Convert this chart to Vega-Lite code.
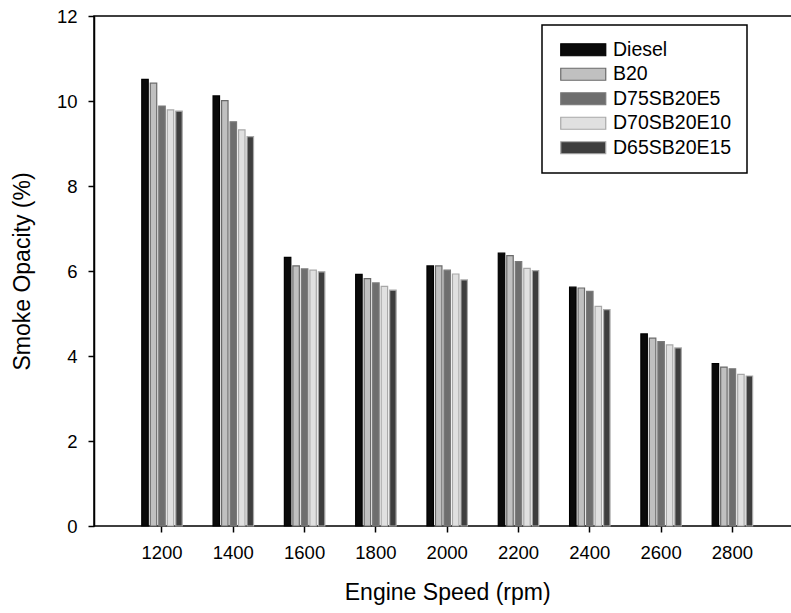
{
  "$schema": "https://vega.github.io/schema/vega-lite/v6.json",
  "autosize": "none",
  "width": 698,
  "height": 510,
  "padding": {"left": 94, "top": 16, "right": 0, "bottom": 87},
  "background": "white",
  "config": {
    "font": "Liberation Sans",
    "view": {"stroke": "black", "strokeWidth": 1.5},
    "axis": {"grid": false, "labelFont": "Liberation Sans", "titleFont": "Liberation Sans", "labelColor": "black", "titleColor": "black", "tickColor": "black", "domainColor": "black", "tickWidth": 1.5, "domainWidth": 1.5, "labelFontSize": 18.5, "titleFontSize": 23, "titleFontWeight": "normal", "tickSize": 6}
  },
  "data": {"values": [
    {"speed": 1200, "fuel": "Diesel", "opacity": 10.51},
    {"speed": 1200, "fuel": "B20", "opacity": 10.42},
    {"speed": 1200, "fuel": "D75SB20E5", "opacity": 9.88},
    {"speed": 1200, "fuel": "D70SB20E10", "opacity": 9.79},
    {"speed": 1200, "fuel": "D65SB20E15", "opacity": 9.76},
    {"speed": 1400, "fuel": "Diesel", "opacity": 10.12},
    {"speed": 1400, "fuel": "B20", "opacity": 10.01},
    {"speed": 1400, "fuel": "D75SB20E5", "opacity": 9.51},
    {"speed": 1400, "fuel": "D70SB20E10", "opacity": 9.32},
    {"speed": 1400, "fuel": "D65SB20E15", "opacity": 9.16},
    {"speed": 1600, "fuel": "Diesel", "opacity": 6.32},
    {"speed": 1600, "fuel": "B20", "opacity": 6.12},
    {"speed": 1600, "fuel": "D75SB20E5", "opacity": 6.05},
    {"speed": 1600, "fuel": "D70SB20E10", "opacity": 6.02},
    {"speed": 1600, "fuel": "D65SB20E15", "opacity": 5.98},
    {"speed": 1800, "fuel": "Diesel", "opacity": 5.92},
    {"speed": 1800, "fuel": "B20", "opacity": 5.82},
    {"speed": 1800, "fuel": "D75SB20E5", "opacity": 5.72},
    {"speed": 1800, "fuel": "D70SB20E10", "opacity": 5.64},
    {"speed": 1800, "fuel": "D65SB20E15", "opacity": 5.55},
    {"speed": 2000, "fuel": "Diesel", "opacity": 6.12},
    {"speed": 2000, "fuel": "B20", "opacity": 6.12},
    {"speed": 2000, "fuel": "D75SB20E5", "opacity": 6.02},
    {"speed": 2000, "fuel": "D70SB20E10", "opacity": 5.93},
    {"speed": 2000, "fuel": "D65SB20E15", "opacity": 5.79},
    {"speed": 2200, "fuel": "Diesel", "opacity": 6.42},
    {"speed": 2200, "fuel": "B20", "opacity": 6.36},
    {"speed": 2200, "fuel": "D75SB20E5", "opacity": 6.22},
    {"speed": 2200, "fuel": "D70SB20E10", "opacity": 6.06},
    {"speed": 2200, "fuel": "D65SB20E15", "opacity": 6.01},
    {"speed": 2400, "fuel": "Diesel", "opacity": 5.62},
    {"speed": 2400, "fuel": "B20", "opacity": 5.6},
    {"speed": 2400, "fuel": "D75SB20E5", "opacity": 5.52},
    {"speed": 2400, "fuel": "D70SB20E10", "opacity": 5.17},
    {"speed": 2400, "fuel": "D65SB20E15", "opacity": 5.09},
    {"speed": 2600, "fuel": "Diesel", "opacity": 4.52},
    {"speed": 2600, "fuel": "B20", "opacity": 4.42},
    {"speed": 2600, "fuel": "D75SB20E5", "opacity": 4.34},
    {"speed": 2600, "fuel": "D70SB20E10", "opacity": 4.26},
    {"speed": 2600, "fuel": "D65SB20E15", "opacity": 4.19},
    {"speed": 2800, "fuel": "Diesel", "opacity": 3.82},
    {"speed": 2800, "fuel": "B20", "opacity": 3.74},
    {"speed": 2800, "fuel": "D75SB20E5", "opacity": 3.7},
    {"speed": 2800, "fuel": "D70SB20E10", "opacity": 3.57},
    {"speed": 2800, "fuel": "D65SB20E15", "opacity": 3.53}
  ]},
  "mark": {"type": "bar", "strokeWidth": 1.2},
  "encoding": {
    "x": {
      "field": "speed", "type": "ordinal",
      "scale": {"range": [32.35, 674.05], "paddingInner": 0.404, "paddingOuter": 0.202},
      "axis": {"title": "Engine Speed (rpm)", "labelAngle": 0, "domain": false, "labelPadding": 11, "titlePadding": 20, "labelFontSize": 18.5, "titleFontSize": 23}
    },
    "xOffset": {
      "field": "fuel", "type": "nominal",
      "sort": ["Diesel", "B20", "D75SB20E5", "D70SB20E10", "D65SB20E15"],
      "scale": {"paddingInner": 0.24, "paddingOuter": 0.12}
    },
    "y": {
      "field": "opacity", "type": "quantitative",
      "scale": {"domain": [0, 12], "nice": false},
      "axis": {"title": "Smoke Opacity (%)", "values": [0, 2, 4, 6, 8, 10, 12], "labelPadding": 11, "titlePadding": 22, "labelFontSize": 18.5, "titleFontSize": 23}
    },
    "fill": {
      "field": "fuel", "type": "nominal",
      "sort": ["Diesel", "B20", "D75SB20E5", "D70SB20E10", "D65SB20E15"],
      "scale": {"domain": ["Diesel", "B20", "D75SB20E5", "D70SB20E10", "D65SB20E15"], "range": ["#0a0a0a", "#c0c0c0", "#6e6e6e", "#e0e0e0", "#3e3e3e"]},
      "legend": {
        "title": null, "orient": "none", "legendX": 448, "legendY": 9,
        "direction": "vertical",
        "strokeColor": "black", "fillColor": "white",
        "padding": 15,
        "symbolType": "M-3.75,-1H3.75V1H-3.75Z",
        "symbolSize": 144, "symbolStrokeWidth": 1.2, "symbolOffset": 16.5,
        "labelFontSize": 19.5, "labelFont": "Liberation Sans", "labelColor": "black",
        "labelOffset": 20, "rowPadding": 3.5,
        "symbolOpacity": 1,
        "encode": {"legend": {"update": {"strokeWidth": {"value": 1.5}}}}
      }
    },
    "stroke": {
      "field": "fuel", "type": "nominal",
      "sort": ["Diesel", "B20", "D75SB20E5", "D70SB20E10", "D65SB20E15"],
      "scale": {"domain": ["Diesel", "B20", "D75SB20E5", "D70SB20E10", "D65SB20E15"], "range": ["#000000", "#6a6a6a", "#7a7a7a", "#a8a8a8", "#a8a8a8"]},
      "legend": null
    }
  }
}
